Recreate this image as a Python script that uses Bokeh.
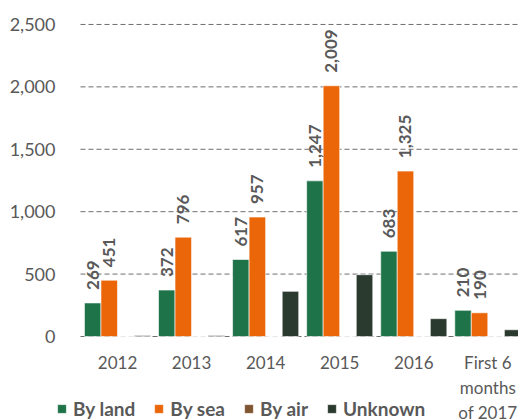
import math
from bokeh.plotting import figure
from bokeh.models import (ColumnDataSource, Range1d, FixedTicker, Legend, LegendItem,
                          LabelSet, NumeralTickFormatter)
from bokeh.core.properties import value
from bokeh.embed import file_html
from bokeh.resources import INLINE

categories = ["2012", "2013", "2014", "2015", "2016", "First 6\nmonths\nof 2017"]
by_land = [269, 372, 617, 1247, 683, 210]
by_sea = [451, 796, 957, 2009, 1325, 190]
by_air = [0, 0, 0, 0, 0, 0]
unknown = [8, 8, 362, 495, 143, 54]
y_ticks = [0, 500, 1000, 1500, 2000, 2500]

series = [("By land", by_land, "#1F7349"), ("By sea", by_sea, "#EA6608"),
          ("By air", by_air, "#7F5531"), ("Unknown", unknown, "#2B3A2F")]
offsets = [-0.335, -0.112, 0.112, 0.335]
bw = 0.223
FONT = "Lato"
GRAY = "#595959"

X_END = 5.914
p = figure(width=518, height=420, output_backend="svg", toolbar_location=None,
           x_range=Range1d(-1.080, X_END), y_range=Range1d(-673, 2692),
           min_border_left=0, min_border_right=0, min_border_top=0, min_border_bottom=0)
p.outline_line_color = None
p.background_fill_color = "white"
p.border_fill_color = "white"
p.xgrid.grid_line_color = None
p.ygrid.grid_line_color = None

# dashed gridlines at the y ticks, spanning the category area
p.segment(x0=[0] * len(y_ticks), x1=[X_END] * len(y_ticks), y0=y_ticks, y1=y_ticks,
          line_color="#6E6E6E", line_dash="5 3", line_width=1)

centers = [i + 0.5 for i in range(len(categories))]
items = []
for (name, vals, col), off in zip(series, offsets):
    src = ColumnDataSource(dict(x=[c + off for c in centers], top=vals,
                                lab=[f"{v:,}" for v in vals]))
    r = p.vbar(x="x", top="top", width=bw, source=src, fill_color=col,
               line_color="white", line_width=0.6)
    items.append(LegendItem(label=name, renderers=[r]))
    if name in ("By land", "By sea"):
        ls = LabelSet(x="x", y="top", text="lab", source=src, angle=math.pi / 2,
                      text_align="left", text_baseline="middle", y_offset=13,
                      text_font=value(FONT), text_font_style="bold",
                      text_font_size="17px", text_color=GRAY)
        p.add_layout(ls)

# axes (placed at the data origin)
p.xaxis.fixed_location = 0
p.yaxis.fixed_location = 0
p.xaxis.ticker = FixedTicker(ticks=centers)
p.xaxis.major_label_overrides = {c: lab for c, lab in zip(centers, categories)}
p.yaxis.ticker = FixedTicker(ticks=y_ticks)
p.yaxis.formatter = NumeralTickFormatter(format="0,0")
for ax in (p.xaxis, p.yaxis):
    ax.axis_line_color = None
    ax.major_tick_line_color = None
    ax.minor_tick_line_color = None
    ax.major_label_text_font = FONT
    ax.major_label_text_color = GRAY
p.xaxis.major_label_text_font_size = "17px"
p.yaxis.major_label_text_font_size = "18px"
p.yaxis.major_label_standoff = 19
p.xaxis.major_label_standoff = 9

legend = Legend(items=items, orientation="horizontal", location=(56, 0),
                padding=0, margin=0, spacing=18, label_standoff=6,
                glyph_width=11, glyph_height=11, border_line_color=None,
                background_fill_alpha=0,
                label_text_font=FONT, label_text_font_style="bold",
                label_text_font_size="19px", label_text_color=GRAY)
p.add_layout(legend, "center")

open("out.html", "w").write(file_html(p, INLINE))
